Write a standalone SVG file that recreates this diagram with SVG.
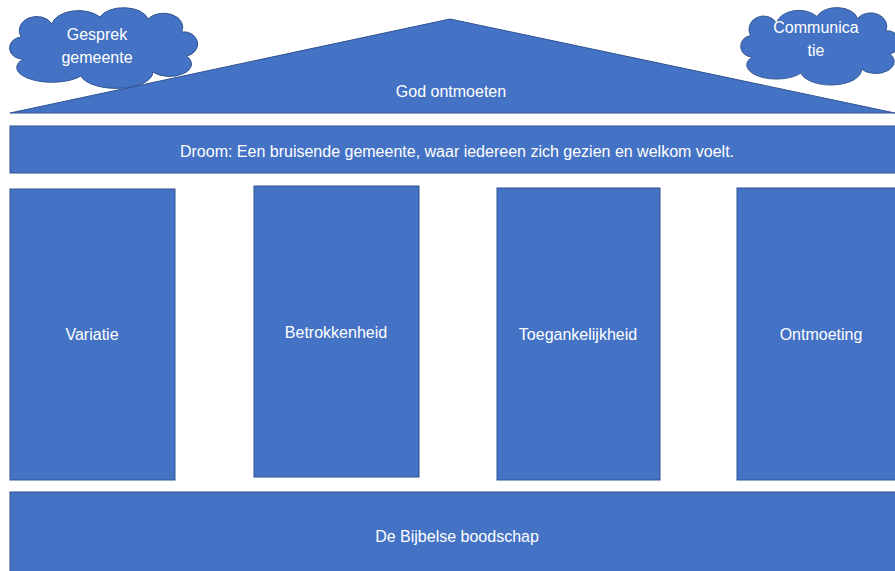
<svg xmlns="http://www.w3.org/2000/svg" width="895" height="571" viewBox="0 0 895 571">
<defs>
<style>
.shape{fill:#4472C4;stroke:#2F528F;stroke-width:1}
.lbl{font-family:"Liberation Sans",Arial,sans-serif;font-size:16px;fill:#FFFFFF;text-anchor:middle}
</style>
<path id="cloud" d="M 20,55 A 12 10 0 0 1 18,33 A 18 14 0 0 1 50,20 A 28 16 0 0 1 100,13 A 26 14 0 0 1 150,15 A 20 14 0 0 1 185,28 A 14 12 0 0 1 190,52 A 22 12 0 0 1 155,68 A 38 16 0 0 1 80,72 A 30 12 0 0 1 20,55 Z"/>
</defs>
<rect width="895" height="571" fill="#FFFFFF"/>
<g id="connectors"></g>
<g id="roof">
<polygon class="shape" points="10,113 450,19 895,113"/>
<text class="lbl" x="451" y="97">God ontmoeten</text>
</g>
<g id="droom">
<rect class="shape" x="10" y="126" width="886" height="47"/>
<text class="lbl" x="457" y="157">Droom: Een bruisende gemeente, waar iedereen zich gezien en welkom voelt.</text>
</g>
<g id="pillar-variatie">
<rect class="shape" x="10" y="189" width="165" height="291"/>
<text class="lbl" x="92" y="340">Variatie</text>
</g>
<g id="pillar-betrokkenheid">
<rect class="shape" x="254" y="186" width="165" height="291"/>
<text class="lbl" x="336" y="338">Betrokkenheid</text>
</g>
<g id="pillar-toegankelijkheid">
<rect class="shape" x="497" y="188" width="163" height="292"/>
<text class="lbl" x="578" y="340">Toegankelijkheid</text>
</g>
<g id="pillar-ontmoeting">
<rect class="shape" x="737" y="188" width="160" height="292"/>
<text class="lbl" x="821" y="340">Ontmoeting</text>
</g>
<g id="base">
<rect class="shape" x="10" y="492" width="886" height="80"/>
<text class="lbl" x="457" y="542">De Bijbelse boodschap</text>
</g>
<g id="cloud-gesprek">
<use href="#cloud" class="shape" transform="translate(4,4) scale(0.96,1)"/>
<text class="lbl" x="97" y="40">Gesprek</text>
<text class="lbl" x="97" y="63">gemeente</text>
</g>
<g id="cloud-communicatie">
<use href="#cloud" class="shape" transform="translate(736,4) scale(0.81,0.96)"/>
<text class="lbl" x="816" y="33">Communica</text>
<text class="lbl" x="816" y="56">tie</text>
</g>
</svg>
